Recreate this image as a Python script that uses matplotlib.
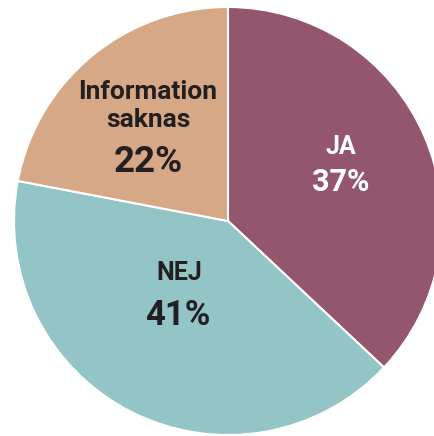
import matplotlib
matplotlib.use("Agg")
import matplotlib.pyplot as plt

categories = ["JA", "NEJ", "Information\nsaknas"]
values = [37, 41, 22]
pct_labels = ["37%", "41%", "22%"]
colors = ["#93566E", "#93C5C7", "#D6A886"]
text_colors = ["white", "#231F20", "#231F20"]

W, H = 434, 436
fig = plt.figure(figsize=(W / 100, H / 100), dpi=100)
ax = fig.add_axes([0, 0, 1, 1])

cx, cy, r = 228, 221, 214
wedges, _ = ax.pie(values, colors=colors, startangle=-90, counterclock=True,
                   radius=r, center=(cx, cy), frame=True,
                   wedgeprops=dict(edgecolor="white", linewidth=1.5))
ax.set_xlim(0, W)
ax.set_ylim(H, 0)
ax.set_aspect("auto")
ax.axis("off")

font = "Roboto"
label_pos = [(341, 147), (179, 273), (148, 106)]
pct_pos = [(341, 182), (178, 315), (148, 162)]
label_sizes = [18, 18, 19]
pct_sizes = [22, 25, 26.5]
for i in range(len(categories)):
    ax.text(label_pos[i][0], label_pos[i][1], categories[i], ha="center", va="center",
            fontsize=label_sizes[i], fontweight="bold", color=text_colors[i],
            family=font, linespacing=1.22)
    ax.text(pct_pos[i][0], pct_pos[i][1], pct_labels[i], ha="center", va="center",
            fontsize=pct_sizes[i], fontweight="bold", color=text_colors[i], family=font)

fig.savefig("out.png", dpi=100)
